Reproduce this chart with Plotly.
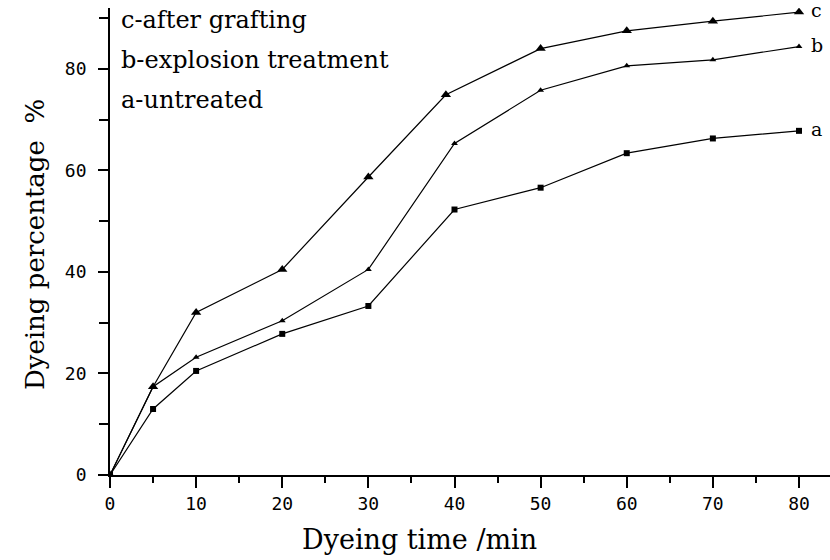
import plotly.graph_objects as go

# Data
time_a = [0, 5, 10, 20, 30, 40, 50, 60, 70, 80]
val_a = [0, 13.0, 20.5, 27.8, 33.3, 52.3, 56.6, 63.4, 66.3, 67.8]

time_b = [0, 5, 10, 20, 30, 40, 50, 60, 70, 80]
val_b = [0, 17.4, 23.2, 30.4, 40.5, 65.3, 75.8, 80.6, 81.8, 84.4]

time_c = [0, 5, 10, 20, 30, 39, 50, 60, 70, 80]
val_c = [0, 17.4, 32.0, 40.5, 58.7, 74.9, 84.0, 87.5, 89.4, 91.2]

curve_labels = ["a", "b", "c"]
legend_lines = ["c-after grafting", "b-explosion treatment", "a-untreated"]
x_title = "Dyeing time /min"
y_title = "Dyeing percentage  %"

serif = "DejaVu Serif"
mono = "DejaVu Sans Mono"

fig = go.Figure()
series = [
    (time_a, val_a, "square", 6),
    (time_b, val_b, "triangle-up", 6),
    (time_c, val_c, "triangle-up", 9),
]
for (xs, ys, sym, sz), name in zip(series, curve_labels):
    fig.add_trace(go.Scatter(
        x=xs, y=ys, mode="lines+markers", name=name,
        line=dict(color="black", width=1.2),
        marker=dict(symbol=sym, size=sz, color="black"),
        showlegend=False,
    ))

# curve end labels
for (xs, ys, _, _), name in zip(series, curve_labels):
    fig.add_annotation(x=xs[-1], y=ys[-1], text=name, showarrow=False,
                       xanchor="left", xshift=10, yshift=2,
                       font=dict(family=serif, size=19, color="black"))

# legend text block
legend_y = [0.974, 0.889, 0.803]
for txt, yy in zip(legend_lines, legend_y):
    fig.add_annotation(x=0.012, y=yy, xref="paper", yref="paper", text=txt,
                       showarrow=False, xanchor="left", yanchor="middle",
                       font=dict(family=serif, size=24, color="black"))

fig.add_annotation(x=-0.104, y=0.4925, xref="paper", yref="paper",
                   text=y_title, textangle=-90, showarrow=False,
                   xanchor="center", yanchor="middle",
                   font=dict(family=serif, size=26, color="black"))
fig.add_annotation(x=0.43, y=-0.138, xref="paper", yref="paper",
                   text=x_title, showarrow=False,
                   xanchor="center", yanchor="middle",
                   font=dict(family=serif, size=27, color="black"))

fig.update_xaxes(
    range=[0, 83.6], tickmode="array", tickvals=list(range(0, 81, 10)),
    ticks="outside", ticklen=11, tickwidth=1.5, tickcolor="black",
    minor=dict(tickvals=list(range(5, 81, 10)), ticks="outside", ticklen=6,
               tickwidth=1.5, tickcolor="black"),
    showline=True, linecolor="black", linewidth=1.8, showgrid=False,
    zeroline=False, tickfont=dict(family=mono, size=18, color="black"),
)
fig.update_yaxes(
    range=[0, 92], tickmode="array", tickvals=list(range(0, 81, 20)),
    ticks="outside", ticklen=10, tickwidth=1.5, tickcolor="black",
    minor=dict(tickvals=list(range(10, 91, 20)), ticks="outside", ticklen=9,
               tickwidth=1.5, tickcolor="black"),
    showline=True, linecolor="black", linewidth=1.8, showgrid=False,
    zeroline=False, ticklabelstandoff=8,
    tickfont=dict(family=mono, size=18, color="black"),
)

fig.update_layout(
    width=830, height=560,
    margin=dict(l=110, r=0, t=8, b=85),
    plot_bgcolor="white", paper_bgcolor="white",
)

fig.write_html("out.html")
